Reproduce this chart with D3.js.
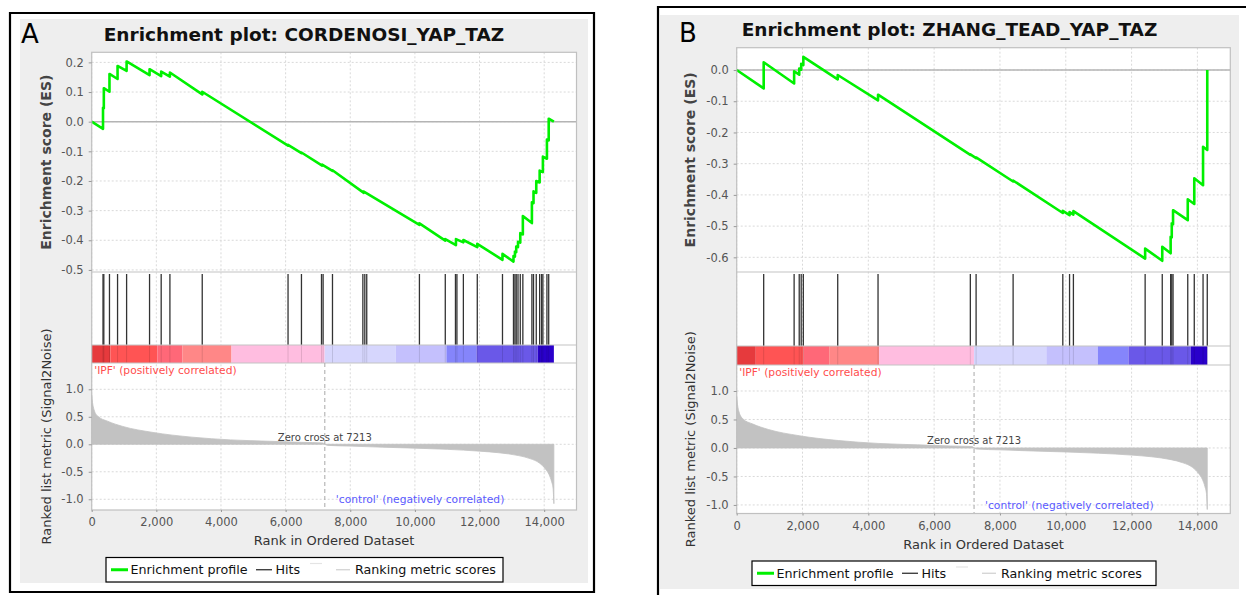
<!DOCTYPE html>
<html>
<head>
<meta charset="utf-8">
<script src="https://cdn.jsdelivr.net/npm/d3@7"></script>
<style>
  body { margin: 0; background: #fff; }
  svg { display: block; }
  text { font-family: "DejaVu Sans", sans-serif; }
</style>
</head>
<body>
<div id="chart"></div>
<script>
// ---- data ----
const rankTicks   = [0, 2000, 4000, 6000, 8000, 10000, 12000, 14000];
const esTicksA    = [0.2, 0.1, 0.0, -0.1, -0.2, -0.3, -0.4, -0.5];
const esTicksB    = [0.0, -0.1, -0.2, -0.3, -0.4, -0.5, -0.6];
const metricTicks = [1.0, 0.5, 0.0, -0.5, -1.0];

// enrichment profile A: [rank, ES]
const esA = [
  [0, 0], [350, -0.024], [350, 0.047], [375, 0.045], [375, 0.113], [550, 0.101], [550, 0.161],
  [800, 0.144], [800, 0.188], [1080, 0.171], [1080, 0.203], [1790, 0.157], [1790, 0.177],
  [2150, 0.154], [2150, 0.169], [2420, 0.152], [2420, 0.166], [3420, 0.092], [3420, 0.101],
  [6075, -0.081], [6075, -0.078], [6490, -0.106], [6490, -0.104], [7130, -0.148], [7130, -0.145],
  [7450, -0.166], [7450, -0.164], [8420, -0.240], [8420, -0.236], [10140, -0.348], [10140, -0.343],
  [10940, -0.401], [10940, -0.396], [11270, -0.416], [11270, -0.396], [11500, -0.407], [11500, -0.399],
  [11930, -0.423], [11930, -0.412], [12710, -0.466], [12710, -0.446], [13050, -0.472], [13050, -0.453],
  [13095, -0.455], [13095, -0.438], [13135, -0.440], [13135, -0.421], [13190, -0.423], [13190, -0.405],
  [13260, -0.408], [13260, -0.376], [13340, -0.380], [13340, -0.318], [13620, -0.342], [13620, -0.272],
  [13670, -0.275], [13670, -0.235], [13755, -0.240], [13755, -0.200], [13860, -0.205], [13860, -0.165],
  [13960, -0.170], [13960, -0.118], [14085, -0.125], [14085, -0.060], [14140, -0.063], [14140, 0.010],
  [14300, 0.0]
];
const hitsA = [350, 375, 550, 800, 1080, 1790, 2150, 2420, 3420, 6075, 6490, 7110, 7160, 7450,
  8390, 8450, 8510, 10140, 10940, 11255, 11300, 11500, 11930, 12710, 13050, 13095, 13135, 13190,
  13260, 13340, 13620, 13670, 13755, 13860, 13920, 13960, 14085, 14140];

// enrichment profile B: [rank, ES]
const esB = [
  [0, 0], [820, -0.059], [820, 0.025], [1745, -0.043], [1745, -0.004], [1900, -0.015], [1900, 0.005],
  [1960, 0.001], [1960, 0.020], [2025, 0.016], [2025, 0.042], [3070, -0.030], [3070, -0.016],
  [4295, -0.097], [4295, -0.079], [7100, -0.272], [7100, -0.270], [7275, -0.282], [7275, -0.280],
  [8400, -0.357], [8400, -0.354], [9910, -0.458], [9910, -0.451], [10115, -0.465], [10115, -0.455],
  [10232, -0.463], [10232, -0.452], [12412, -0.604], [12412, -0.572], [12932, -0.611], [12932, -0.566],
  [13187, -0.587], [13187, -0.534], [13221, -0.536], [13221, -0.491], [13260, -0.494], [13260, -0.449],
  [13707, -0.481], [13707, -0.414], [13905, -0.429], [13905, -0.347], [14172, -0.369], [14172, -0.246],
  [14300, -0.256], [14300, 0.0]
];
const hitsB = [820, 1745, 1900, 1960, 2025, 3070, 4295, 7100, 7275, 8400, 9910, 10115, 10232,
  12412, 12932, 13187, 13221, 13260, 13707, 13905, 14172, 14300];

// ranked list metric (shared list)
const metricRanks = [0, 25, 72, 190, 490, 960, 1900, 3100, 4300, 5500, 6500, 7150, 7213, 7300,
  8000, 9000, 10000, 11000, 12000, 12600, 13200, 13560, 13850, 14040, 14150, 14230, 14275, 14300];
const metricVals = [0.9, 0.76, 0.63, 0.51, 0.42, 0.325, 0.215, 0.13, 0.08, 0.055, 0.035, 0.025, 0, -0.02,
  -0.033, -0.053, -0.07, -0.092, -0.125, -0.154, -0.205, -0.26, -0.34, -0.45, -0.55, -0.68, -0.8, -1.08];
const zeroCross = 7213;

// heat bar blocks
const barEdges  = [0, 580, 2030, 2810, 4325, 7210, 9410, 10975, 11905, 13800, 14300];
const barColors = ["#e63a3d", "#ff5454", "#ff6878", "#ff8787", "#ffbde0",
                   "#d6d6fd", "#c4c0fd", "#8585fb", "#6a58e8", "#2a00cb"];

const legendItems = ["Enrichment profile", "Hits", "Ranking metric scores"];

// ---- layout of each panel ----
const panels = [
  { tag: "A", title: "Enrichment plot: CORDENOSI_YAP_TAZ", es: esA, hits: hitsA, esTicks: esTicksA,
    esDomain: [-0.507, 0.234], metricDomain: [-1.195, 1.478],
    frame: "M10,592V13H594V592Z", bg: [20, 19, 568, 564],
    tagX: 21, tagY: 43, titleY: 41, yTitleX: 46,
    left: 91.7, right: 576.5, top: 52.3, esBottom: 272, barTop: 345, barBottom: 363, axisY: 510,
    legendX: 106, legendW: 397 },
  { tag: "B", title: "Enrichment plot: ZHANG_TEAD_YAP_TAZ", es: esB, hits: hitsB, esTicks: esTicksB,
    esDomain: [-0.647, 0.0715], metricDomain: [-1.15, 1.456],
    frame: "M658,596V7H1247", bg: [660, 15, 579, 574],
    tagX: 679, tagY: 42, titleY: 36, yTitleX: 690,
    left: 736.7, right: 1230.3, top: 47.7, esBottom: 272, barTop: 346, barBottom: 365, axisY: 513.5,
    legendX: 752, legendW: 404 }
];

const svg = d3.select("#chart").append("svg").attr("width", 1246).attr("height", 595);

function draw_panel(svg, p)
{
  const g = svg.append("g");

  g.append("rect")
    .attr("x", p.bg[0]).attr("y", p.bg[1]).attr("width", p.bg[2]).attr("height", p.bg[3])
    .attr("fill", "#eeeeee");
  g.append("path").attr("d", p.frame)
    .attr("fill", "none").attr("stroke", "#000").attr("stroke-width", 2.2);

  g.append("text")
    .attr("x", p.tagX).attr("y", p.tagY)
    .attr("font-size", 26).attr("fill", "#000")
    .text(p.tag);
  g.append("text")
    .attr("x", p.bg[0] + p.bg[2] / 2).attr("y", p.titleY)
    .attr("text-anchor", "middle")
    .attr("font-size", 18.5).attr("font-weight", "bold").attr("fill", "#111")
    .text(p.title);

  const x   = d3.scaleLinear().domain([0, 15000]).range([p.left, p.right]);
  const yES = d3.scaleLinear().domain(p.esDomain).range([p.esBottom, p.top]);
  const yM  = d3.scaleLinear().domain(p.metricDomain).range([p.axisY, p.barBottom]);

  // white plot area
  g.append("rect")
    .attr("x", p.left).attr("y", p.top)
    .attr("width", p.right - p.left).attr("height", p.axisY - p.top)
    .attr("fill", "#fff");

  // grid lines
  g.selectAll("line.vgrid")
    .data(rankTicks)
    .join("line")
      .attr("class", "vgrid")
      .attr("x1", d => x(d)).attr("x2", d => x(d))
      .attr("y1", p.top).attr("y2", p.axisY)
      .attr("stroke", "#d9d9d9").attr("stroke-dasharray", "2,2");
  g.selectAll("line.esgrid")
    .data(p.esTicks)
    .join("line")
      .attr("class", "esgrid")
      .attr("x1", p.left).attr("x2", p.right)
      .attr("y1", d => yES(d)).attr("y2", d => yES(d))
      .attr("stroke", "#d9d9d9").attr("stroke-dasharray", "2,2");
  g.selectAll("line.mgrid")
    .data(metricTicks)
    .join("line")
      .attr("class", "mgrid")
      .attr("x1", p.left).attr("x2", p.right)
      .attr("y1", d => yM(d)).attr("y2", d => yM(d))
      .attr("stroke", "#d9d9d9").attr("stroke-dasharray", "2,2");

  // ES zero line
  g.append("line")
    .attr("x1", p.left).attr("x2", p.right)
    .attr("y1", yES(0)).attr("y2", yES(0))
    .attr("stroke", "#b4b4b4").attr("stroke-width", 1.5);

  // heat bar
  g.selectAll("rect.bar")
    .data(barColors)
    .join("rect")
      .attr("class", "bar")
      .attr("x", (d, i) => x(barEdges[i]))
      .attr("width", (d, i) => x(barEdges[i + 1]) - x(barEdges[i]))
      .attr("y", p.barTop).attr("height", p.barBottom - p.barTop)
      .attr("fill", d => d);

  // hits
  g.selectAll("line.hit")
    .data(p.hits)
    .join("line")
      .attr("class", "hit")
      .attr("x1", d => x(d)).attr("x2", d => x(d))
      .attr("y1", p.esBottom + 2).attr("y2", p.barTop)
      .attr("stroke", "#333").attr("stroke-width", 1.3);
  g.selectAll("line.hitbar")
    .data(p.hits)
    .join("line")
      .attr("class", "hitbar")
      .attr("x1", d => x(d)).attr("x2", d => x(d))
      .attr("y1", p.barTop).attr("y2", p.barBottom)
      .attr("stroke", "#000").attr("stroke-opacity", 0.12);

  // panel dividers
  [p.esBottom, p.barTop, p.barBottom].forEach(function(yy) {
    g.append("line")
      .attr("x1", p.left).attr("x2", p.right)
      .attr("y1", yy).attr("y2", yy)
      .attr("stroke", "#c4c4c4").attr("stroke-width", 1.2);
  });

  // ranked list metric
  const area = d3.area()
    .x((d, i) => x(metricRanks[i]))
    .y0(yM(0))
    .y1(d => yM(d))
    .curve(d3.curveMonotoneX);
  g.append("path")
    .datum(metricVals)
    .attr("d", area)
    .attr("fill", "#c2c2c2")
    .attr("stroke", "#c2c2c2").attr("stroke-width", 0.8);

  g.append("line")
    .attr("x1", x(zeroCross)).attr("x2", x(zeroCross))
    .attr("y1", p.barBottom).attr("y2", p.axisY)
    .attr("stroke", "#a8a8a8").attr("stroke-dasharray", "4,3");
  g.append("text")
    .attr("x", x(zeroCross)).attr("y", yM(0) - 3.5)
    .attr("text-anchor", "middle")
    .attr("font-size", 10).attr("fill", "#444")
    .text("Zero cross at " + zeroCross);
  g.append("text")
    .attr("x", p.left + 2.5).attr("y", p.barBottom + 11)
    .attr("font-size", 10.7).attr("fill", "#ff4d4d")
    .text("'IPF' (positively correlated)");
  g.append("text")
    .attr("x", x(zeroCross) + 11).attr("y", yM(-1.0) + 4)
    .attr("font-size", 10.7).attr("fill", "#5a5aff")
    .text("'control' (negatively correlated)");

  // enrichment profile
  const line = d3.line()
    .x(d => x(d[0]))
    .y(d => yES(d[1]));
  g.append("path")
    .datum(p.es)
    .attr("d", line)
    .attr("fill", "none")
    .attr("stroke", "#00f000").attr("stroke-width", 2.6)
    .attr("stroke-linejoin", "round");

  // outer border of plot
  g.append("rect")
    .attr("x", p.left).attr("y", p.top)
    .attr("width", p.right - p.left).attr("height", p.axisY - p.top)
    .attr("fill", "none").attr("stroke", "#c0c0c0").attr("stroke-width", 1.2);

  // axes
  function style_axis(sel) {
    sel.select(".domain").remove();
    sel.selectAll(".tick line").attr("stroke", "#999");
    sel.selectAll(".tick text").attr("fill", "#555").attr("font-size", 11.5)
      .attr("font-family", "DejaVu Sans, sans-serif");
  }
  g.append("g")
    .attr("transform", `translate(${p.left}, 0)`)
    .call(d3.axisLeft(yES).tickValues(p.esTicks).tickFormat(d => d.toFixed(1)).tickSize(3).tickPadding(5))
    .call(style_axis);
  g.append("g")
    .attr("transform", `translate(${p.left}, 0)`)
    .call(d3.axisLeft(yM).tickValues(metricTicks).tickFormat(d => d.toFixed(1)).tickSize(3).tickPadding(5))
    .call(style_axis);
  g.append("g")
    .attr("transform", `translate(0, ${p.axisY})`)
    .call(d3.axisBottom(x).tickValues(rankTicks).tickFormat(d3.format(",")).tickSize(2).tickPadding(6))
    .call(style_axis);

  // axis titles
  g.append("text")
    .attr("transform", `translate(${p.yTitleX}, ${(p.top + p.esBottom) / 2}) rotate(-90)`)
    .attr("text-anchor", "middle").attr("dominant-baseline", "central")
    .attr("font-size", 14).attr("font-weight", "bold").attr("fill", "#444")
    .text("Enrichment score (ES)");
  g.append("text")
    .attr("transform", `translate(${p.yTitleX}, ${(p.barBottom + p.axisY) / 2}) rotate(-90)`)
    .attr("text-anchor", "middle").attr("dominant-baseline", "central")
    .attr("font-size", 13).attr("fill", "#333")
    .text("Ranked list metric (Signal2Noise)");
  g.append("text")
    .attr("x", (p.left + p.right) / 2).attr("y", p.axisY + 35)
    .attr("text-anchor", "middle")
    .attr("font-size", 13).attr("fill", "#333")
    .text("Rank in Ordered Dataset");

  // legend
  const ly = p.axisY + 47.5, lh = 24.5, lc = ly + lh / 2;
  const lg = g.append("g").attr("transform", `translate(${p.legendX}, 0)`);
  lg.append("rect")
    .attr("x", 0).attr("y", ly).attr("width", p.legendW).attr("height", lh)
    .attr("fill", "#fff").attr("stroke", "#000").attr("stroke-width", 1.2);
  lg.append("line").attr("x1", 5).attr("x2", 22).attr("y1", lc).attr("y2", lc)
    .attr("stroke", "#00f000").attr("stroke-width", 3);
  lg.append("line").attr("x1", 150).attr("x2", 166).attr("y1", lc).attr("y2", lc)
    .attr("stroke", "#222").attr("stroke-width", 1.2);
  lg.append("line").attr("x1", 204).attr("x2", 216).attr("y1", ly + 6).attr("y2", ly + 6)
    .attr("stroke", "#e4e4e4").attr("stroke-width", 1.2);
  lg.append("line").attr("x1", 230).attr("x2", 244).attr("y1", lc).attr("y2", lc)
    .attr("stroke", "#cfcfcf").attr("stroke-width", 1.2);
  lg.selectAll("text")
    .data(legendItems)
    .join("text")
      .attr("x", (d, i) => [24.5, 169.5, 249][i])
      .attr("y", lc)
      .attr("dominant-baseline", "central")
      .attr("font-size", 12.7).attr("fill", "#111")
      .text(d => d);
}

panels.forEach(function(p) { draw_panel(svg, p); });
</script>
</body>
</html>
